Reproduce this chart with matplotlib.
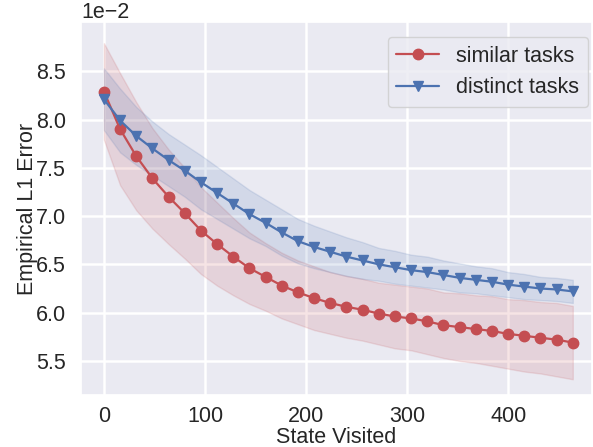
import numpy as np
import matplotlib
matplotlib.use("Agg")
import matplotlib.pyplot as plt
import seaborn as sns

# data (values in units of 1e-2)
states = list(range(0, 465, 16))

similar_mean = [8.29, 7.90, 7.62, 7.39, 7.20, 7.03, 6.85, 6.71, 6.58, 6.46,
                6.37, 6.28, 6.21, 6.15, 6.10, 6.06, 6.03, 5.99, 5.96, 5.94,
                5.91, 5.87, 5.85, 5.83, 5.81, 5.78, 5.76, 5.74, 5.72, 5.69]
similar_std = [0.50, 0.58, 0.56, 0.52, 0.49, 0.47, 0.45, 0.43, 0.40, 0.37,
               0.35, 0.34, 0.33, 0.33, 0.32, 0.32, 0.32, 0.32, 0.33, 0.33,
               0.34, 0.34, 0.35, 0.35, 0.36, 0.36, 0.37, 0.37, 0.38, 0.38]

distinct_mean = [8.21, 7.99, 7.83, 7.70, 7.58, 7.47, 7.35, 7.24, 7.13, 7.02,
                 6.93, 6.83, 6.74, 6.68, 6.63, 6.58, 6.54, 6.50, 6.47, 6.44,
                 6.42, 6.39, 6.36, 6.34, 6.32, 6.29, 6.27, 6.25, 6.24, 6.22]
distinct_std = [0.32, 0.33, 0.30, 0.28, 0.27, 0.27, 0.28, 0.27, 0.26, 0.25,
                0.24, 0.24, 0.23, 0.22, 0.21, 0.20, 0.19, 0.17, 0.17, 0.16,
                0.16, 0.15, 0.15, 0.14, 0.14, 0.13, 0.13, 0.12, 0.12, 0.12]

sns.set_theme(style="darkgrid")
plt.rcParams['font.family'] = ['Liberation Sans', 'DejaVu Sans']
fs = 15.5

red = '#c44e52'
blue = '#4c72b0'

fig = plt.figure(figsize=(5.93, 4.47), dpi=100)
ax = fig.add_axes([81 / 593, 1 - 395 / 447, (592 - 81) / 593, (395 - 22) / 447])

x = np.array(states)
for mean, std, color, marker, label in [
        (similar_mean, similar_std, red, 'o', 'similar tasks'),
        (distinct_mean, distinct_std, blue, 'v', 'distinct tasks')]:
    m = np.array(mean) * 1e-2
    s = np.array(std) * 1e-2
    ax.plot(x, m, color=color, marker=marker, markersize=7.5, linewidth=1.6, label=label)
    ax.fill_between(x, m - s, m + s, color=color, alpha=0.15)

ax.set_xlim(-22.7, 483)
ax.set_ylim(5.147e-2, 9.01e-2)
ax.set_xticks([0, 100, 200, 300, 400])
ax.set_yticks(np.array([5.5, 6.0, 6.5, 7.0, 7.5, 8.0, 8.5]) * 1e-2)
ax.ticklabel_format(axis='y', style='sci', scilimits=(-2, -2))
ax.yaxis.get_offset_text().set_fontsize(fs)
ax.tick_params(axis='x', labelsize=fs, pad=2)
ax.tick_params(axis='y', labelsize=fs, pad=5)
ax.grid(True, color='white', linewidth=1.8)

ax.set_xlabel('State Visited', fontsize=fs, labelpad=0)
ax.set_ylabel('Empirical L1 Error', fontsize=fs, labelpad=-2)
ax.legend(loc='upper right', fontsize=fs, borderaxespad=0,
          bbox_to_anchor=(588 / 593, 1 - 37 / 447), bbox_transform=fig.transFigure)

fig.savefig('out.png', dpi=100)
